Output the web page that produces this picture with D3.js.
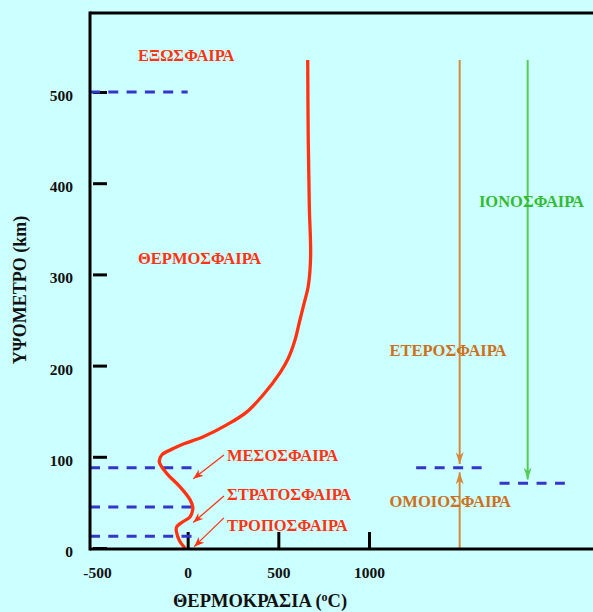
<!DOCTYPE html>
<html><head><meta charset="utf-8">
<script src="https://cdn.jsdelivr.net/npm/d3@7"></script>
<style>html,body{margin:0;padding:0;background:#ccffff;} svg{display:block;}</style>
</head><body>
<script>
// ---------- data ----------
const yTicks = [0, 100, 200, 300, 400, 500];
const xTicks = [-500, 0, 500, 1000];
const xTickMarks = [0, 500, 1000];

// temperature profile (°C) vs altitude (km)
const profileTemp = [-15, -45, -62, -61, -24, 13, 28, 28, 13, -42, -107, -143, -157, -143, -79, -24, 86, 215, 325, 417, 509, 555, 592, 619, 647, 665, 678, 671, 665, 662];
const profileAlt  = [0, 8, 18, 23, 29, 34, 42, 45, 53, 67, 80, 89, 95, 102, 109, 114, 122, 135, 149, 168, 192, 208, 228, 250, 272, 287, 319, 374, 447, 535];

// layer boundaries (left, dashed)
const boundaryAlt = [13, 45, 88, 500];
const boundaryEndTemp = [38, 38, 38, 0];

// right-side boundaries (homopause, ionosphere base)
const rightBoundAlt = [88, 71];
const rightBoundStart = [1260, 1720];
const rightBoundEnd = [1625, 2080];

// vertical range arrows
const vArrowTemp = [1500, 1500, 1875];
const vArrowFrom = [535, 0, 535];
const vArrowTo = [92, 83, 75];
const vArrowColor = ["#d4883a", "#d4883a", "#55cc55"];

// layer names
const layerNames = ["ΕΞΩΣΦΑΙΡΑ", "ΘΕΡΜΟΣΦΑΙΡΑ", "ΜΕΣΟΣΦΑΙΡΑ", "ΣΤΡΑΤΟΣΦΑΙΡΑ", "ΤΡΟΠΟΣΦΑΙΡΑ", "ΕΤΕΡΟΣΦΑΙΡΑ", "ΟΜΟΙΟΣΦΑΙΡΑ", "ΙΟΝΟΣΦΑΙΡΑ"];
const layerTemp  = [-274, -274, 217, 217, 217, 1113, 1113, 1606];
const layerAlt   = [540, 318, 102, 59, 25, 217, 51, 380];
const layerColor = ["#ff3311", "#ff3311", "#ff3311", "#ff3311", "#ff3311", "#cc7020", "#cc7020", "#33bb33"];

// pointer arrows from labels to curve
const ptrFromTemp = [200, 200, 200];
const ptrFromAlt  = [102, 57, 33];
const ptrToTemp   = [31, 31, 36];
const ptrToAlt    = [76, 28, 1.5];

// ---------- drawing ----------
const W = 593, H = 612;
const frameL = 90, frameT = 13, frameB = 549, frameR = 600;
const FONT = "'Liberation Serif','Times New Roman',serif";
const x = d3.scaleLinear().domain([-500, 1000]).range([97, 369]);
const y = d3.scaleLinear().domain([0, 500]).range([548, 92]);

const svg = d3.select("body").append("svg").attr("width", W).attr("height", H)
  .style("font-family", FONT);
svg.append("rect").attr("width", W).attr("height", H).attr("fill", "#ccffff");

const defs = svg.append("defs");
function marker(id, color, len, wid) {
  defs.append("marker").attr("id", id)
    .attr("markerUnits", "userSpaceOnUse")
    .attr("viewBox", `0 ${-wid/2} ${len} ${wid}`)
    .attr("markerWidth", len).attr("markerHeight", wid)
    .attr("refX", len).attr("refY", 0).attr("orient", "auto")
    .append("path")
    .attr("d", `M0,${-wid/2} L${len},0 L0,${wid/2} L${len*0.3},0 Z`)
    .attr("fill", color);
}
marker("mOrange", "#d4883a", 12, 8);
marker("mGreen", "#55cc55", 12, 8);
marker("mRed", "#ff3311", 10, 8);

// y axis ticks + labels
const yAx = svg.append("g").attr("transform", `translate(${frameL + 3},0)`)
  .call(d3.axisRight(y).tickValues(yTicks).tickSize(14).tickFormat(d => String(d)));
yAx.select(".domain").remove();
yAx.selectAll(".tick line").attr("stroke", "#000").attr("stroke-width", 3);
yAx.selectAll(".tick text").attr("x", -20).attr("dy", "0.55em")
  .attr("text-anchor", "end").attr("font-size", 15.5).attr("font-weight", "bold")
  .attr("fill", "#111").style("font-family", FONT);

// x axis ticks + labels
const xAx = svg.append("g").attr("transform", `translate(0,${frameB})`)
  .call(d3.axisTop(x).tickValues(xTicks).tickSize(17).tickFormat(d => String(d)));
xAx.select(".domain").remove();
xAx.selectAll(".tick line").attr("stroke", "#000").attr("stroke-width", 3)
  .attr("display", d => xTickMarks.includes(d) ? null : "none");
xAx.selectAll(".tick text").attr("y", 29).attr("dy", 0)
  .attr("font-size", 15.5).attr("font-weight", "bold").attr("fill", "#111")
  .style("font-family", FONT);

// dashed boundaries (left)
svg.append("g").selectAll("line").data(boundaryAlt).join("line")
  .attr("x1", frameL).attr("x2", (d, i) => x(boundaryEndTemp[i]))
  .attr("y1", d => y(d)).attr("y2", d => y(d))
  .attr("stroke", "#3535cc").attr("stroke-width", 3).attr("stroke-dasharray", "10,8.3");

// dashed boundaries (right)
svg.append("g").selectAll("line").data(rightBoundAlt).join("line")
  .attr("x1", (d, i) => x(rightBoundStart[i])).attr("x2", (d, i) => x(rightBoundEnd[i]))
  .attr("y1", d => y(d)).attr("y2", d => y(d))
  .attr("stroke", "#3535cc").attr("stroke-width", 3).attr("stroke-dasharray", "10,8.5");

// vertical arrows
svg.append("g").selectAll("line").data(vArrowTemp).join("line")
  .attr("x1", d => x(d)).attr("x2", d => x(d))
  .attr("y1", (d, i) => y(vArrowFrom[i])).attr("y2", (d, i) => y(vArrowTo[i]))
  .attr("stroke", (d, i) => vArrowColor[i]).attr("stroke-width", 2)
  .attr("marker-end", (d, i) => i < 2 ? "url(#mOrange)" : "url(#mGreen)");

// temperature curve
const pts = profileTemp.map((t, i) => [t, profileAlt[i]]);
svg.append("path").datum(pts)
  .attr("d", d3.line().x(d => x(d[0])).y(d => y(d[1])).curve(d3.curveCatmullRom.alpha(0.5)))
  .attr("fill", "none").attr("stroke", "#ff3311").attr("stroke-width", 3.3)
  .attr("stroke-linejoin", "round");

// pointer arrows
svg.append("g").selectAll("line").data(ptrFromTemp).join("line")
  .attr("x1", d => x(d)).attr("y1", (d, i) => y(ptrFromAlt[i]))
  .attr("x2", (d, i) => x(ptrToTemp[i])).attr("y2", (d, i) => y(ptrToAlt[i]))
  .attr("stroke", "#ff3311").attr("stroke-width", 1.3).attr("marker-end", "url(#mRed)");

// frame
const frame = svg.append("g").attr("stroke", "#000").attr("stroke-width", 3);
frame.append("line").attr("x1", frameL).attr("x2", frameL).attr("y1", frameT - 1.5).attr("y2", frameB + 1.5);
frame.append("line").attr("x1", frameL).attr("x2", frameR).attr("y1", frameB).attr("y2", frameB);
frame.append("line").attr("x1", frameL).attr("x2", frameR).attr("y1", frameT).attr("y2", frameT);

// layer labels
svg.append("g").selectAll("text").data(layerNames).join("text")
  .attr("x", (d, i) => x(layerTemp[i])).attr("y", (d, i) => y(layerAlt[i]))
  .attr("dy", "0.35em").attr("font-size", 16.5).attr("font-weight", "bold")
  .attr("fill", (d, i) => layerColor[i]).text(d => d);

// axis titles
svg.append("text").attr("transform", "translate(26,290) rotate(-90)")
  .attr("text-anchor", "middle").attr("font-size", 18).attr("font-weight", "bold")
  .attr("fill", "#111").text("ΥΨΟΜΕΤΡΟ (km)");
const xt = svg.append("text").attr("x", 260).attr("y", 607).attr("text-anchor", "middle")
  .attr("font-size", 18.5).attr("font-weight", "bold").attr("fill", "#111");
xt.append("tspan").text("ΘΕΡΜΟΚΡΑΣΙΑ (");
xt.append("tspan").attr("font-size", 12).attr("dy", -6).text("o");
xt.append("tspan").attr("dy", 6).text("C)");
</script>
</body></html>
